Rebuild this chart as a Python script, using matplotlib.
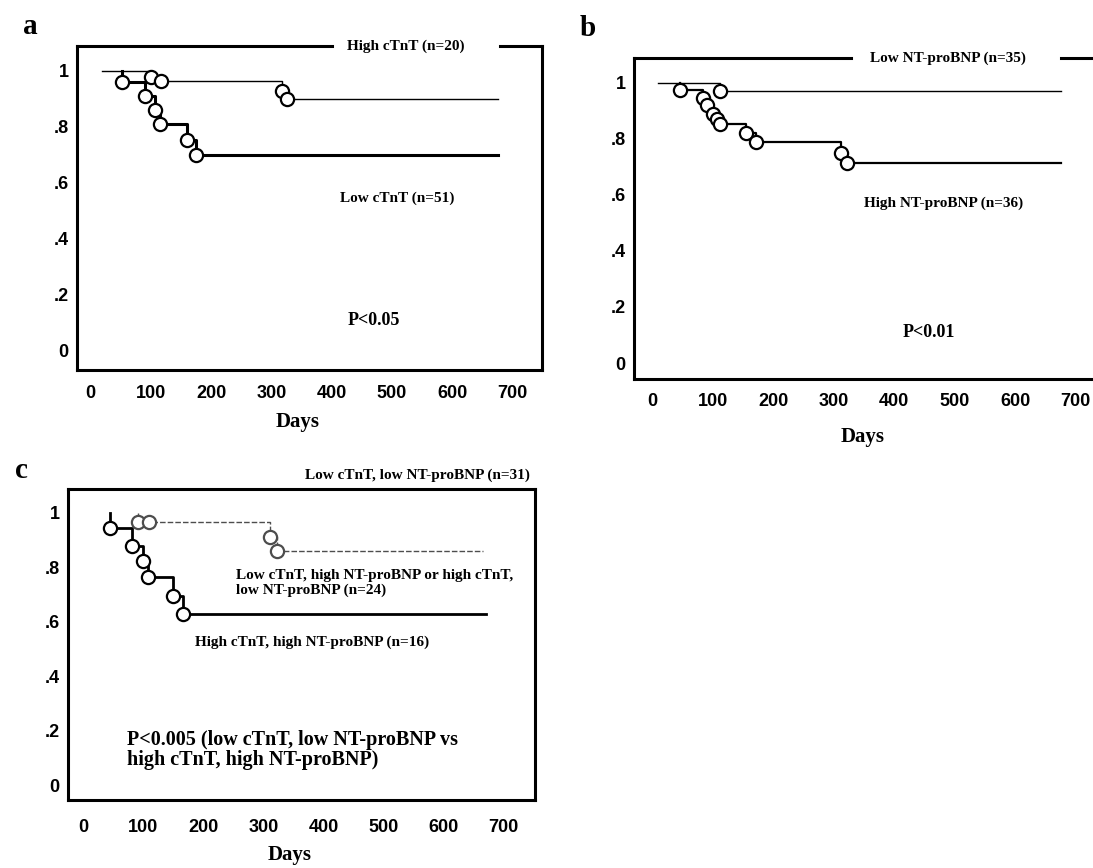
import matplotlib.pyplot as plt

# y axis ticks/labels shared by all panels
y_ticks = [0, 0.2, 0.4, 0.6, 0.8, 1.0]
y_labels = ['0', '.2', '.4', '.6', '.8', '1']
x_ticks = [0, 100, 200, 300, 400, 500, 600, 700]

# panel a (cTnT): start day, drop days, survival after each drop, last day
a_low_start, a_low_end = 18, 676
a_low_t = [100, 117, 317, 326]
a_low_s = [0.98, 0.965, 0.93, 0.90]
a_high_start, a_high_end = 51, 676
a_high_t = [51, 90, 106, 115, 159, 175]
a_high_s = [0.96, 0.91, 0.86, 0.81, 0.755, 0.70]

# panel b (NT-proBNP)
b_low_start, b_low_end = 10, 675
b_low_t = [112]
b_low_s = [0.97]
b_high_start, b_high_end = 46, 675
b_high_t = [46, 84, 91, 100, 107, 113, 155, 172, 312, 322]
b_high_s = [0.975, 0.945, 0.92, 0.89, 0.87, 0.855, 0.82, 0.79, 0.75, 0.715]

# panel c (combined)
c_mid_start, c_mid_end = 92, 665
c_mid_t = [92, 109, 311, 322]
c_mid_s = [0.965, 0.965, 0.91, 0.86]
c_high_start, c_high_end = 45, 670
c_high_t = [45, 82, 100, 108, 150, 167]
c_high_s = [0.945, 0.88, 0.825, 0.765, 0.695, 0.63]

serif = 'Liberation Serif'
sans = 'Liberation Sans'


def km(ax, start, times, surv, end, lw, color='black', ls='-'):
    xs = [start] + times + [end]
    ys = [1.0] + surv + [surv[-1]]
    ax.step(xs, ys, where='post', color=color, lw=lw, ls=ls, zorder=3)
    ax.plot(times, surv, 'o', ms=9.5, mfc='white', mec=color, mew=1.6, zorder=4)


def setup(ax, xlim, ylim, xpad, label_y):
    ax.set_xlim(*xlim)
    ax.set_ylim(*ylim)
    ax.set_xticks(x_ticks)
    ax.set_yticks(y_ticks)
    ax.set_yticklabels(y_labels)
    ax.tick_params(length=0, labelsize=13)
    ax.tick_params(axis='x', pad=xpad)
    ax.tick_params(axis='y', pad=6)
    for lab in ax.get_xticklabels() + ax.get_yticklabels():
        lab.set_fontfamily(sans)
        lab.set_fontweight('bold')
    for s in ['left', 'bottom', 'right']:
        ax.spines[s].set_linewidth(2.2)
    ax.spines['top'].set_visible(False)
    ax.set_xlabel('Days', fontfamily=serif, fontweight='bold', fontsize=15)
    ax.xaxis.set_label_coords(0.475, label_y)
    ax.xaxis.label.set_va('top')


fig = plt.figure(figsize=(10.93, 8.68), dpi=100)

# ---- a ----
ax = fig.add_axes([0.0704, 0.5737, 0.4255, 0.3733])
setup(ax, (-23, 749), (-0.068, 1.089), 11, -0.13)
ax.plot([0, 0.548], [1, 1], color='black', lw=2.2, transform=ax.transAxes, clip_on=False)
ax.plot([0.910, 1], [1, 1], color='black', lw=2.2, transform=ax.transAxes, clip_on=False)
km(ax, a_high_start, a_high_t, a_high_s, a_high_end, lw=2.2)
km(ax, a_low_start, a_low_t, a_low_s, a_low_end, lw=1.0)
ax.text(522, 1.0, 'High cTnT (n=20)', transform=ax.get_xaxis_transform(),
        ha='center', va='center', fontfamily=serif, fontweight='bold', fontsize=11)
ax.text(508, 0.546, 'Low cTnT (n=51)', ha='center', va='center',
        fontfamily=serif, fontweight='bold', fontsize=11)
ax.text(469, 0.11, 'P<0.05', ha='center', va='center',
        fontfamily=serif, fontweight='bold', fontsize=13)
fig.text(30 / 1093, 1 - 27 / 868, 'a', fontfamily=serif, fontweight='bold',
         fontsize=21, ha='center', va='center')

# ---- b ----
ax = fig.add_axes([0.580, 0.5634, 0.4264, 0.3698])
setup(ax, (-30, 740), (-0.057, 1.089), 10, -0.15)
ax.xaxis.set_label_coords(0.49, -0.15)
ax.plot([0, 0.466], [1, 1], color='black', lw=2.2, transform=ax.transAxes, clip_on=False)
ax.plot([0.916, 1], [1, 1], color='black', lw=2.2, transform=ax.transAxes, clip_on=False)
km(ax, b_high_start, b_high_t, b_high_s, b_high_end, lw=1.6)
km(ax, b_low_start, b_low_t, b_low_s, b_low_end, lw=1.0)
ax.text(488, 1.0, 'Low NT-proBNP (n=35)', transform=ax.get_xaxis_transform(),
        ha='center', va='center', fontfamily=serif, fontweight='bold', fontsize=11)
ax.text(481, 0.571, 'High NT-proBNP (n=36)', ha='center', va='center',
        fontfamily=serif, fontweight='bold', fontsize=11)
ax.text(458, 0.11, 'P<0.01', ha='center', va='center',
        fontfamily=serif, fontweight='bold', fontsize=13)
fig.text(588 / 1093, 1 - 28 / 868, 'b', fontfamily=serif, fontweight='bold',
         fontsize=21, ha='center', va='center')

# ---- c ----
ax = fig.add_axes([0.0622, 0.0783, 0.4273, 0.3583])
setup(ax, (-25, 752), (-0.055, 1.088), 14, -0.145)
ax.spines['top'].set_visible(True)
ax.spines['top'].set_linewidth(2.2)
km(ax, c_high_start, c_high_t, c_high_s, c_high_end, lw=2.0)
km(ax, c_mid_start, c_mid_t, c_mid_s, c_mid_end, lw=1.0, color='0.3', ls=(0, (4, 1.5)))
ax.text(0.989, 1.045, 'Low cTnT, low NT-proBNP (n=31)', transform=ax.transAxes,
        ha='right', va='center', fontfamily=serif, fontweight='bold', fontsize=11)
ax.text(254, 0.743, 'Low cTnT, high NT-proBNP or high cTnT,\nlow NT-proBNP (n=24)',
        ha='left', va='center', fontfamily=serif, fontweight='bold', fontsize=11,
        linespacing=1.15)
ax.text(186, 0.526, 'High cTnT, high NT-proBNP (n=16)', ha='left', va='center',
        fontfamily=serif, fontweight='bold', fontsize=11)
ax.text(74, 0.13, 'P<0.005 (low cTnT, low NT-proBNP vs\nhigh cTnT, high NT-proBNP)',
        ha='left', va='center', fontfamily=serif, fontweight='bold', fontsize=14.5,
        linespacing=1.0)
fig.text(21 / 1093, 1 - 470 / 868, 'c', fontfamily=serif, fontweight='bold',
         fontsize=21, ha='center', va='center')

fig.savefig('out.png', dpi=100)
